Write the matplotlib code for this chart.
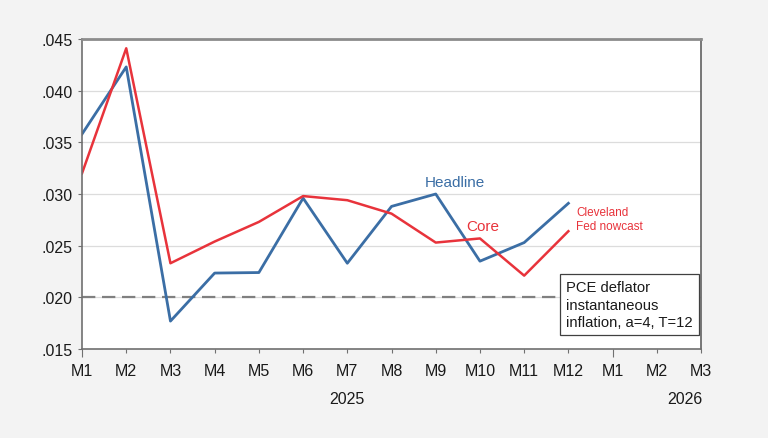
import numpy as np
import matplotlib.pyplot as plt

plt.rcParams['font.family'] = ['Liberation Sans', 'DejaVu Sans']

# months Jan 2025 .. Mar 2026 on the axis, data through Dec 2025
tick_labels = ['M1', 'M2', 'M3', 'M4', 'M5', 'M6', 'M7', 'M8', 'M9', 'M10',
               'M11', 'M12', 'M1', 'M2', 'M3']
years = ['2025', '2026']
headline = [0.0358, 0.0423, 0.0177, 0.02235, 0.0224, 0.0296, 0.0233, 0.0288,
            0.0300, 0.0235, 0.0253, 0.0291]
core = [0.0320, 0.0441, 0.0233, 0.0254, 0.0273, 0.0298, 0.0294, 0.0281,
        0.0253, 0.0257, 0.0221, 0.0264]
target = 0.020

blue = '#3b6ea5'
red = '#e8333b'

fig = plt.figure(figsize=(7.68, 4.39), dpi=100, facecolor='#f3f3f3')
ax = fig.add_axes([0.1068, 0.2027, 0.806, 0.7062])
ax.set_facecolor('white')

x = np.arange(len(headline))
ax.plot(x, headline, color=blue, lw=2)
ax.plot(x, core, color=red, lw=1.8)
ax.axhline(target, color='#808080', lw=1.6, ls=(0, (6, 3)), zorder=1)

ax.set_xlim(0, len(tick_labels) - 1)
ax.set_ylim(0.015, 0.045)
ax.set_yticks(np.arange(0.015, 0.0451, 0.005))
ax.set_yticklabels(['.015', '.020', '.025', '.030', '.035', '.040', '.045'])
ax.set_xticks(np.arange(len(tick_labels)))
ax.set_xticklabels(tick_labels)
ax.grid(axis='y', color='#dcdcdc', lw=0.9)
ax.set_axisbelow(True)

for s in ['left', 'bottom']:
    ax.spines[s].set_color('#707070')
    ax.spines[s].set_linewidth(1.2)
ax.spines['top'].set_color('#8c8c8c')
ax.spines['top'].set_linewidth(2)
ax.spines['right'].set_color('#606060')
ax.spines['right'].set_linewidth(1.2)

ax.tick_params(axis='both', labelsize=11.5, colors='#707070', labelcolor='#1a1a1a',
               length=3, direction='out')
ax.tick_params(axis='x', pad=7)
ax.tick_params(axis='y', pad=4)
# longer ticks at year starts
for i in [0, 12]:
    ax.get_xticklines()[2 * i].set_markersize(6)

xt = ax.get_xaxis_transform()
ax.text(6.0, -0.16, years[0], transform=xt, ha='center', va='center',
        fontsize=11.5, color='#1a1a1a')
ax.text(13.64, -0.16, years[1], transform=xt, ha='center', va='center',
        fontsize=11.5, color='#1a1a1a')

ax.text(8.44, 0.03115, 'Headline', color=blue, fontsize=11, ha='center', va='center')
ax.text(9.07, 0.0269, 'Core', color=red, fontsize=11, ha='center', va='center')
ax.text(11.18, 0.02757, 'Cleveland\nFed nowcast', color=red, fontsize=8.5,
        ha='left', va='center', linespacing=1.25)

ax.text(10.95, 0.0193, 'PCE deflator\ninstantaneous\ninflation, a=4, T=12',
        fontsize=10.6, color='#1a1a1a', ha='left', va='center', linespacing=1.35,
        bbox=dict(boxstyle='square,pad=0.4', facecolor='white', edgecolor='#404040', lw=0.9))

fig.savefig('out.png', dpi=100, facecolor=fig.get_facecolor())
